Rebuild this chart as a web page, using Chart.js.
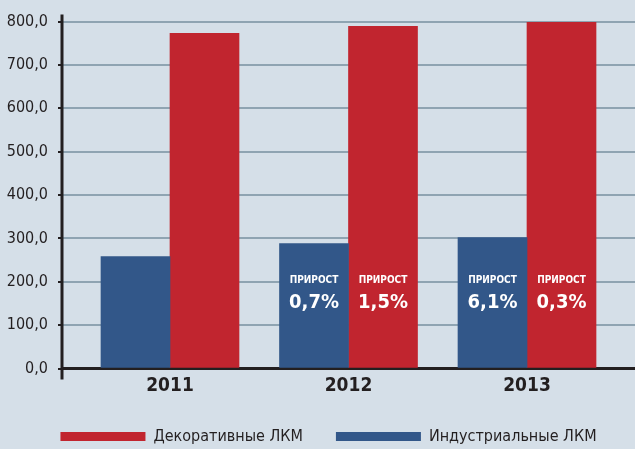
<!DOCTYPE html>
<html>
<head>
<meta charset="utf-8">
<script src="https://cdn.jsdelivr.net/npm/chart.js@4"></script>
<style>
  html, body { margin: 0; padding: 0; background: #d5dfe8; overflow: hidden; }
  #wrap { width: 635px; height: 449px; }
</style>
</head>
<body>
<div id="wrap"><canvas id="chart"></canvas></div>
<script>
const years = ['2011', '2012', '2013'];
const industrial = [258, 288, 302];
const decorative = [773, 789, 798];
const growthIndustrial = [null, '0,7%', '6,1%'];
const growthDecorative = [null, '1,5%', '0,3%'];
const yTickLabels = ['0,0', '100,0', '200,0', '300,0', '400,0', '500,0', '600,0', '700,0', '800,0'];

const FONT = "'Liberation Sans Narrow', 'DejaVu Sans Condensed', 'Open Sans', sans-serif";
const DARK = '#231f20';

// long vertical axis line, sticks out above and below the plot
const axisLine = {
    id: 'axisLine',
    afterDraw(chart) {
        const { ctx, chartArea } = chart;
        ctx.save();
        ctx.strokeStyle = DARK;
        ctx.lineWidth = 3;
        ctx.beginPath();
        ctx.moveTo(chartArea.left, chartArea.top - 7);
        ctx.lineTo(chartArea.left, chartArea.bottom + 11);
        ctx.stroke();
        ctx.restore();
    }
};

const growthLabels = {
    id: 'growthLabels',
    afterDatasetsDraw(chart) {
        const { ctx } = chart;
        const y = chart.scales.y;
        [growthIndustrial, growthDecorative].forEach((labels, di) => {
            const meta = chart.getDatasetMeta(di);
            meta.data.forEach((bar, i) => {
                if (!labels[i]) return;
                ctx.save();
                ctx.fillStyle = '#ffffff';
                ctx.textAlign = 'center';
                ctx.textBaseline = 'middle';
                ctx.font = 'bold 10px ' + FONT;
                ctx.fillText('ПРИРОСТ', bar.x, y.getPixelForValue(202));
                ctx.font = 'bold 20px ' + FONT;
                ctx.fillText(labels[i], bar.x, y.getPixelForValue(151));
                ctx.restore();
            });
        });
    }
};

new Chart(document.getElementById('chart'), {
    type: 'bar',
    data: {
        datasets: [
            {
                label: 'Индустриальные ЛКМ',
                data: industrial.map((v, i) => ({ x: i, y: v })),
                backgroundColor: '#325789',
                barThickness: 69
            },
            {
                label: 'Декоративные ЛКМ',
                data: decorative.map((v, i) => ({ x: i, y: v })),
                backgroundColor: '#c1252f',
                barThickness: 69
            }
        ]
    },
    options: {
        responsive: true,
        maintainAspectRatio: false,
        animation: false,
        layout: { padding: { top: 21.5, left: 0, right: -22, bottom: -5.5 } },
        scales: {
            x: {
                type: 'linear',
                offset: false,
                min: -0.605,
                max: 2.605,
                afterBuildTicks: s => { s.ticks = years.map((c, i) => ({ value: i })); },
                afterFit: s => { s.height = 27; },
                grid: { display: false, drawTicks: false, offset: false },
                border: { display: true, color: DARK, width: 3 },
                ticks: {
                    padding: 6,
                    color: DARK,
                    font: { family: FONT, size: 19, weight: 'bold' },
                    callback: v => years[v]
                }
            },
            y: {
                min: 0,
                max: 800,
                afterFit: s => { s.width = 62; },
                grid: { color: '#8fa4b2', lineWidth: 2, tickLength: 4, tickColor: DARK, tickWidth: 2 },
                border: { display: false },
                ticks: {
                    stepSize: 100,
                    padding: 10,
                    color: DARK,
                    font: { family: FONT, size: 16 },
                    callback: v => yTickLabels[v / 100]
                }
            }
        },
        plugins: {
            tooltip: { enabled: false },
            legend: {
                position: 'bottom',
                reverse: true,
                labels: {
                    boxWidth: 85,
                    boxHeight: 9,
                    padding: 33,
                    color: DARK,
                    font: { family: FONT, size: 16 }
                }
            }
        }
    },
    plugins: [axisLine, growthLabels]
});
</script>
</body>
</html>
